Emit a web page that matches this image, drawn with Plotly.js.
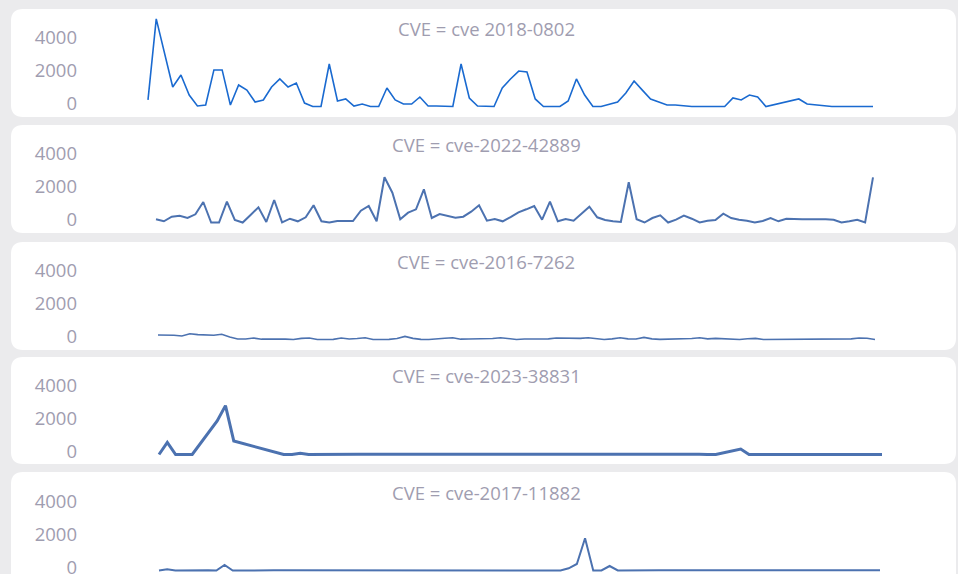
<!DOCTYPE html>
<html>
<head>
<meta charset="utf-8">
<script src="https://cdn.plot.ly/plotly-3.0.1.min.js"></script>
<style>html,body{margin:0;padding:0;background:#ebebed;}#chart{width:958px;height:574px;}</style>
</head>
<body>
<div id="chart"></div>
<script>
// ---- data ----
const cveNames = ["cve 2018-0802", "cve-2022-42889", "cve-2016-7262", "cve-2023-38831", "cve-2017-11882"];
const yTickVals = [0, 2000, 4000];

const cve_2018_0802 = [400,5340,null,1190,1920,700,30,90,2230,2230,90,1310,1000,270,400,1190,1680,1190,1430,210,0,0,2590,340,460,30,150,0,0,1130,400,150,150,580,30,30,0,0,2590,520,30,0,0,1130,1680,2160,2100,460,0,0,0,340,1680,700,0,0,150,270,820,1550,1000,460,270,90,90,30,0,0,0,0,0,520,400,700,580,0,null,null,null,460,150,90,30,0,0,0,0,0,0];

const cve_2022_42889 = [195,73,354,415,274,500,1250,0,0,1270,152,0,457,927,30,1372,12,232,73,317,1049,73,0,91,91,91,720,1006,73,2756,1817,195,598,805,2024,274,518,396,293,354,659,1049,110,213,73,335,622,805,1006,171,1268,73,213,110,537,963,317,152,73,30,2451,195,0,274,439,0,171,415,232,0,110,152,537,274,171,110,0,91,274,73,232,195,195,195,213,195,171,0,73,171,0,2756];

const cve_2016_7262 = [270,270,260,210,350,300,270,260,320,150,30,30,90,20,20,30,20,0,70,90,0,0,10,90,30,60,110,0,0,10,60,190,70,10,0,20,80,110,20,30,30,40,60,110,70,0,30,30,30,40,90,80,60,70,110,40,0,40,110,40,30,130,40,10,20,30,30,60,110,40,70,60,40,0,50,70,0,0,10,20,40,40,30,30,20,20,20,40,90,80,0];

const cve_2023_38831 = [0,740,0,0,0,null,null,2050,2980,820,null,null,null,null,null,0,0,70,0,10,10,10,10,30,20,20,20,20,20,30,30,30,40,40,40,40,40,40,40,50,50,50,40,40,40,30,30,30,20,10,10,10,10,10,10,10,10,10,10,10,10,10,10,10,10,10,0,0,null,null,335,0,0,0,0,0,0,0,0,0,0,0,0,0,0,0,0,0];

const cve_2017_11882 = [0,70,0,10,10,20,10,0,335,0,10,10,10,10,10,10,10,10,10,20,10,10,10,10,20,10,10,10,20,20,10,10,10,20,10,10,10,10,10,30,10,10,10,10,10,10,20,10,10,0,134,396,1963,0,0,274,0,10,10,10,10,10,10,10,10,20,10,10,10,10,10,10,10,10,20,10,10,10,10,10,10,10,10,10,10,10,10,10,10];

const seriesList = [cve_2018_0802, cve_2022_42889, cve_2016_7262, cve_2023_38831, cve_2017_11882];

// ---- layout / styling ----
const W = 958, H = 574;
const plotL = 78, plotR = 950;
const pxPerUnit = 0.0164;
const yRange = [-200, 5800];
const panelMeta = [
  {start:148, end:873, zero:106.5, title:28.5, top:9,   bottom:117, color:"#1a6ad0", width:1.6},
  {start:156, end:873, zero:222.5, title:144.5, top:125, bottom:233, color:"#4c72b0", width:2},
  {start:158, end:875, zero:339.5, title:261.5, top:242, bottom:350, color:"#4c72b0", width:1.6},
  {start:159, end:882, zero:454.5, title:375.5, top:357, bottom:464, color:"#4c72b0", width:3},
  {start:159, end:880, zero:570.5, title:492, top:472, bottom:600, color:"#4c72b0", width:2}
];
const labelColor = "#9f9db0";
const fontSize = 18.5;
const X = px => px / W;
const Y = py => 1 - py / H;

function roundRect(x0, y0, x1, y1, r) {
  const p = (a, b) => X(a) + "," + Y(b);
  return "M" + p(x0 + r, y0) + " L" + p(x1 - r, y0) + " Q" + p(x1, y0) + " " + p(x1, y0 + r) +
         " L" + p(x1, y1 - r) + " Q" + p(x1, y1) + " " + p(x1 - r, y1) +
         " L" + p(x0 + r, y1) + " Q" + p(x0, y1) + " " + p(x0, y1 - r) +
         " L" + p(x0, y0 + r) + " Q" + p(x0, y0) + " " + p(x0 + r, y0) + " Z";
}

const traces = [];
const layout = {
  width: W, height: H,
  margin: {l:0, r:0, t:0, b:0},
  paper_bgcolor: "#ebebed",
  plot_bgcolor: "rgba(0,0,0,0)",
  font: {family: "Open Sans, sans-serif", color: labelColor},
  showlegend: false,
  shapes: [],
  annotations: []
};

seriesList.forEach((vals, k) => {
  const m = panelMeta[k];
  const n = vals.length;
  const idx = vals.map((_, i) => i);
  const s = (m.end - m.start) / (n - 1);
  const sfx = k === 0 ? "" : String(k + 1);
  traces.push({
    type: "scatter", mode: "lines",
    x: idx, y: vals,
    xaxis: "x" + sfx,
    yaxis: "y" + sfx,
    connectgaps: true,
    line: {color: m.color, width: m.width},
    hoverinfo: "skip"
  });
  layout["xaxis" + sfx] = {
    domain: [X(plotL), X(plotR)],
    range: [(plotL - m.start) / s, (plotR - m.start) / s],
    visible: false,
    anchor: "y" + sfx
  };
  const botPx = m.zero - yRange[0] * pxPerUnit;
  const topPx = m.zero - yRange[1] * pxPerUnit;
  layout["yaxis" + sfx] = {
    domain: [Math.max(0, Y(botPx)), Y(topPx)],
    range: yRange,
    anchor: "x" + sfx,
    tickmode: "array",
    tickvals: yTickVals,
    ticktext: yTickVals.map(String),
    showgrid: false, zeroline: false, showline: false, ticks: "",
    ticklabelshift: -3,
    ticklabeloverflow: "allow",
    tickfont: {size: fontSize, color: labelColor}
  };
  layout.shapes.push({
    type: "path", xref: "paper", yref: "paper", layer: "below",
    path: roundRect(11, m.top, 956, m.bottom, 12),
    fillcolor: "#ffffff", line: {width: 0}
  });
  layout.annotations.push({
    xref: "paper", yref: "paper", x: X(486), y: Y(m.title),
    xanchor: "center", yanchor: "middle", showarrow: false,
    text: "CVE = " + cveNames[k],
    font: {size: fontSize, color: labelColor}
  });
});

Plotly.newPlot("chart", traces, layout, {displayModeBar: false, staticPlot: true});
</script>
</body>
</html>
